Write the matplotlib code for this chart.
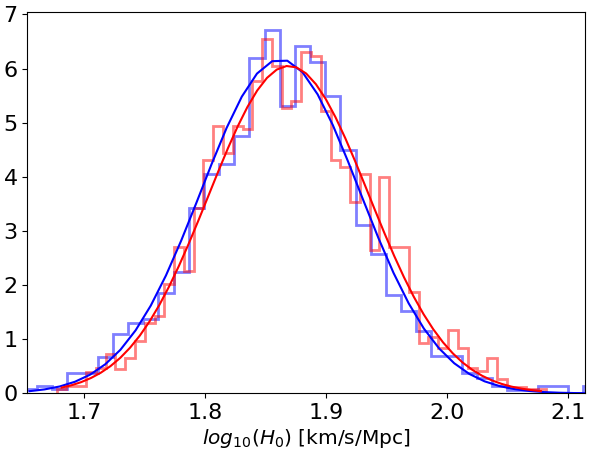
import numpy as np
import matplotlib
matplotlib.use("Agg")
import matplotlib.pyplot as plt

# ---- data ----
blue_edge_start = 1.64837
blue_bin_width = 0.012537
blue_hist = [0.076, 0.137, 0.076, 0.383, 0.383, 0.667, 1.10, 1.30, 1.375, 1.85,
             2.25, 3.43, 4.05, 4.23, 4.76, 6.19, 6.72, 5.30, 6.41, 6.13,
             5.50, 4.50, 3.11, 2.58, 1.82, 1.52, 1.15, 0.70, 0.70, 0.383,
             0.279, 0.145, 0.07, 0.07, 0.137, 0.137, 0.0, 0.137]
blue_curve = [0.041, 0.074, 0.128, 0.215, 0.346, 0.538, 0.806, 1.165, 1.622, 2.178,
              2.819, 3.516, 4.230, 4.905, 5.482, 5.908, 6.137, 6.146, 5.934, 5.523,
              4.956, 4.286, 3.574, 2.873, 2.226, 1.663, 1.198, 0.832, 0.557, 0.359,
              0.223, 0.134, 0.078, 0.043, 0.023, 0.012, 0.006, 0.003]

red_edge_start = 1.67719
red_bin_width = 0.008083
red_hist = [0.076, 0.137, 0.137, 0.40, 0.464, 0.723, 0.451, 0.66, 0.974, 1.307,
            1.436, 2.017, 2.71, 2.27, 3.43, 4.31, 4.94, 4.45, 4.94, 4.89,
            5.77, 6.55, 6.04, 5.28, 5.41, 6.30, 6.24, 5.21, 4.31, 4.19,
            3.53, 4.06, 2.64, 3.99, 2.71, 2.71, 1.87, 0.926, 1.05, 0.845,
            1.17, 0.845, 0.46, 0.414, 0.66, 0.266, 0.11, 0.11, 0.076, 0.076]
red_curve = [0.107, 0.150, 0.208, 0.284, 0.381, 0.504, 0.657, 0.844, 1.068, 1.331,
             1.635, 1.978, 2.357, 2.767, 3.200, 3.646, 4.093, 4.526, 4.931, 5.292,
             5.596, 5.829, 5.982, 6.048, 6.023, 5.910, 5.712, 5.440, 5.103, 4.716,
             4.294, 3.852, 3.403, 2.963, 2.541, 2.147, 1.787, 1.465, 1.184, 0.942,
             0.739, 0.570, 0.434, 0.325, 0.240, 0.175, 0.125, 0.089, 0.062, 0.042]

x_limits = (1.6529, 2.1140)
y_limits = (0.0, 7.04)
xlabel = r"$log_{10}(H_0)$ [km/s/Mpc]"

# ---- build bin edges / centres ----
blue_edges = blue_edge_start + blue_bin_width * np.arange(len(blue_hist) + 1)
red_edges = red_edge_start + red_bin_width * np.arange(len(red_hist) + 1)
blue_centres = 0.5 * (blue_edges[:-1] + blue_edges[1:])
red_centres = 0.5 * (red_edges[:-1] + red_edges[1:])

fig = plt.figure(figsize=(5.92, 4.53), dpi=100)
ax = fig.add_axes([27.3 / 592, 1 - 393.4 / 453, (585.3 - 27.3) / 592, (393.4 - 12.3) / 453])

ax.hist(blue_centres, bins=blue_edges, weights=blue_hist, histtype="step",
        color="blue", alpha=0.5, linewidth=2)
ax.hist(red_centres, bins=red_edges, weights=red_hist, histtype="step",
        color="red", alpha=0.5, linewidth=2)
ax.plot(blue_centres, blue_curve, color="blue", linewidth=1.5)
ax.plot(red_centres, red_curve, color="red", linewidth=1.5)

ax.set_xlim(*x_limits)
ax.set_ylim(*y_limits)
ax.set_xticks([1.7, 1.8, 1.9, 2.0, 2.1])
ax.set_yticks(range(0, 8))
ax.tick_params(labelsize=16)
ax.set_xlabel(xlabel, fontsize=14.5, labelpad=3)

fig.savefig("out.png", dpi=100)
